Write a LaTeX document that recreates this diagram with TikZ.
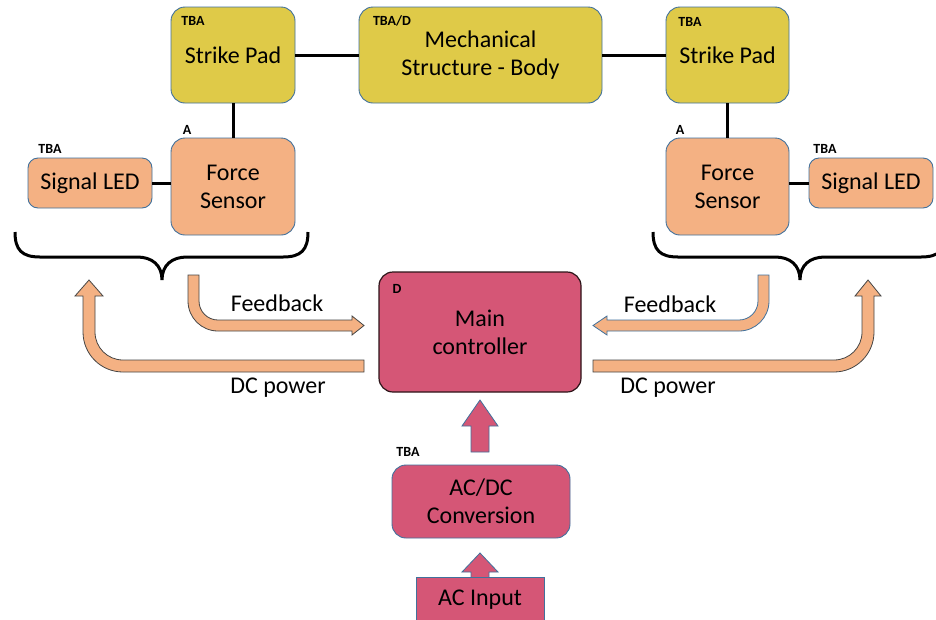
\documentclass[tikz,border=0pt]{standalone}
\usepackage{fontspec}
\setmainfont{Carlito}
\definecolor{ycol}{RGB}{223,202,72}
\definecolor{ocol}{RGB}{244,177,131}
\definecolor{pcol}{RGB}{213,86,118}
\definecolor{bordc}{RGB}{65,113,156}
\definecolor{darkb}{RGB}{45,20,25}
\definecolor{arrgray}{RGB}{70,70,70}
\begin{document}
\begin{tikzpicture}[x=1pt,y=-1pt,
  box/.style={draw=bordc, line width=0.9pt, rounded corners=14pt, align=center,
    font=\fontsize{24}{28}\selectfont, inner sep=0pt},
  ybox/.style={box, fill=ycol},
  obox/.style={box, fill=ocol},
  pbox/.style={box, fill=pcol},
  tag/.style={font=\bfseries\fontsize{14}{16}\selectfont, inner sep=0pt},
  link/.style={line width=3pt},
  brace/.style={line width=3pt},
  fatarrow/.style={line width=0.8pt, line join=miter},
  lbl/.style={font=\fontsize{24}{28}\selectfont, inner sep=0pt}]
\useasboundingbox (0,0) rectangle (936,619);
\clip (0,0) rectangle (936,619);
\fill[white] (0,0) rectangle (936,619);

% top row
\node[ybox, minimum width=124pt, minimum height=96pt] (spL) at (233,55) {Strike Pad};
\node[ybox, minimum width=243pt, minimum height=96pt] (mech) at (480.5,55) {Mechanical\\Structure - Body};
\node[ybox, minimum width=123pt, minimum height=96pt] (spR) at (727.5,55) {Strike Pad};

% sensors and LEDs
\node[obox, minimum width=124pt, minimum height=97pt] (fsL) at (233,186.5) {Force\\Sensor};
\node[obox, rounded corners=10pt, minimum width=124pt, minimum height=50pt] (ledL) at (90,183) {Signal LED};
\node[obox, minimum width=123pt, minimum height=97pt] (fsR) at (727.5,186.5) {Force\\Sensor};
\node[obox, rounded corners=10pt, minimum width=124pt, minimum height=50pt] (ledR) at (871,183) {Signal LED};

% controller chain
\node[pbox, draw=darkb, line width=1.2pt, minimum width=202pt, minimum height=120pt] (main) at (480,332) {Main\\controller};
\node[pbox, minimum width=178pt, minimum height=73pt] (acdc) at (481,501.5) {AC/DC\\Conversion};

% tags
\node[tag] (tSpL) at (193,21) {TBA};
\node[tag] (tMech) at (392,21) {TBA/D};
\node[tag] (tSpR) at (690,22) {TBA};
\node[tag] (tFsL) at (187,130) {A};
\node[tag] (tLedL) at (50,149) {TBA};
\node[tag] (tFsR) at (680,130) {A};
\node[tag] (tLedR) at (825,149) {TBA};
\node[tag] (tMain) at (397,289) {D};
\node[tag] (tAcdc) at (408,452) {TBA};

% connectors
\draw[link] (spL.east) -- (mech.west);
\draw[link] (mech.east) -- (spR.west);
\draw[link] (spL.south) -- (fsL.north);
\draw[link] (spR.south) -- (fsR.north);
\draw[link] (ledL.east) -- (ledL.east -| fsL.west);
\draw[link] (ledR.west) -- (ledR.west -| fsR.east);

% braces
\draw[brace] (15,232) .. controls (15,250) and (22,257) .. (40,257) -- (137,257)
  .. controls (152,257) and (162,265) .. (162,280)
  .. controls (162,265) and (172,257) .. (187,257) -- (283,257)
  .. controls (301,257) and (308,250) .. (308,232);
\draw[brace] (653,232) .. controls (653,250) and (660,257) .. (678,257) -- (775,257)
  .. controls (790,257) and (800,265) .. (800,280)
  .. controls (800,265) and (810,257) .. (825,257) -- (921,257)
  .. controls (939,257) and (946,250) .. (946,232);

% left DC power arrow
\draw[fatarrow, fill=ocol, draw=arrgray] (364,360) -- (123,360) .. controls (107.5,360) and (95,347.5) .. (95,332)
  -- (95,296) -- (103,296) -- (89,280) -- (75,296) -- (83,296) -- (83,332)
  .. controls (83,354.1) and (100.9,372) .. (123,372) -- (364,372) -- cycle;
% left feedback arrow
\draw[fatarrow, fill=ocol, draw=arrgray] (188,275) -- (199,275) -- (199,301) .. controls (199,311.5) and (207.5,320) .. (218,320)
  -- (352,320) -- (352,316) -- (364,325.5) -- (352,335) -- (352,331) -- (218,331)
  .. controls (201.4,331) and (188,317.6) .. (188,301) -- cycle;
% right feedback arrow
\draw[fatarrow, fill=ocol, draw=bordc] (769,275) -- (758,275) -- (758,301) .. controls (758,311.5) and (749.5,320) .. (739,320)
  -- (607,320) -- (607,316) -- (593,325.5) -- (607,335) -- (607,331) -- (739,331)
  .. controls (755.6,331) and (769,317.6) .. (769,301) -- cycle;
% right DC power arrow
\draw[fatarrow, fill=ocol, draw=arrgray] (593,360) -- (834,360) .. controls (849.5,360) and (862,347.5) .. (862,332)
  -- (862,296) -- (855,296) -- (868,280) -- (881,296) -- (874,296) -- (874,332)
  .. controls (874,354.1) and (856.1,372) .. (834,372) -- (593,372) -- cycle;

% arrow labels
\node[lbl] (fbL) at (277,303) {Feedback};
\node[lbl] (dcL) at (278,388) {DC power};
\node[lbl] (fbR) at (670,304) {Feedback};
\node[lbl] (dcR) at (668,388) {DC power};

% pink up arrows
\draw[fatarrow, fill=pcol, draw=bordc] (471,452) -- (471,426) -- (462,426) -- (480,400) -- (498,426) -- (489,426) -- (489,452) -- cycle;
\draw[fatarrow, fill=pcol, draw=bordc] (471,578) -- (471,572) -- (462,572) -- (480,553) -- (498,572) -- (489,572) -- (489,578) -- cycle;

\node[box, rounded corners=0pt, fill=pcol, minimum width=128pt, minimum height=46pt] (acin) at (480,600) {AC Input};
\end{tikzpicture}
\end{document}
